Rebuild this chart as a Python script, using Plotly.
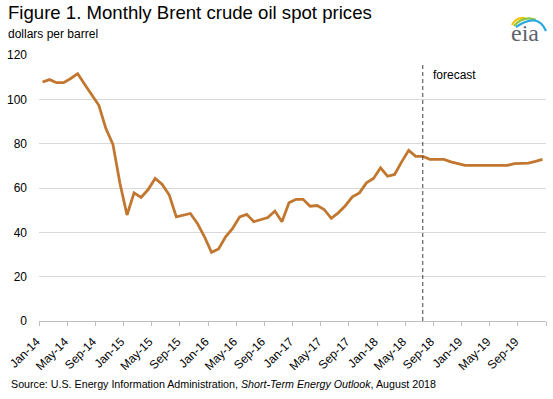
import plotly.graph_objects as go
import pandas as pd

# ---- data ----
months = [d.strftime("%b-%y") for d in pd.date_range("2014-01-01", periods=72, freq="MS")]
brent = [
    107.8, 108.9, 107.5, 107.5, 109.4, 111.6, 106.7, 102.2, 97.3, 86.8, 79.7, 62.0,   # 2014
    47.8, 57.8, 55.7, 59.3, 64.3, 61.6, 56.8, 47.0, 47.8, 48.5, 44.0, 38.0,           # 2015
    31.0, 32.5, 38.0, 41.8, 47.0, 48.1, 44.8, 45.8, 46.7, 49.6, 44.8, 53.3,           # 2016
    54.9, 54.9, 51.8, 52.1, 50.3, 46.3, 48.8, 52.0, 56.0, 57.8, 62.3, 64.3,           # 2017
    69.1, 65.3, 66.1, 71.8, 77.0, 74.3, 74.3, 72.9, 72.9, 72.9, 71.8, 70.9,           # 2018
    70.2, 70.2, 70.2, 70.2, 70.2, 70.2, 70.2, 71.0, 71.0, 71.2, 72.0, 72.9,           # 2019
]
forecast_start = "Jul-18"
y_ticks = [0, 20, 40, 60, 80, 100, 120]

title_text = "Figure 1. Monthly Brent crude oil spot prices"
units_text = "dollars per barrel"
source_text = "Source: U.S. Energy Information Administration, <i>Short-Term Energy Outlook</i>, August 2018"

# ---- layout geometry (pixels) ----
W, H = 553, 399
ML, MR, MT, MB = 39, 7, 55, 78
PW, PH = W - ML - MR, H - MT - MB


def px(x):
    return (x - ML) / PW


def py(y):
    return (H - MB - y) / PH


FONT = "Arial, 'Liberation Sans', sans-serif"
LINE_COLOR = "#C1772F"

fig = go.Figure()
fig.add_trace(go.Scatter(
    x=months, y=brent, mode="lines",
    line=dict(color=LINE_COLOR, width=2.8),
    hoverinfo="x+y", showlegend=False,
))

fig.update_layout(
    width=W, height=H,
    margin=dict(l=ML, r=MR, t=MT, b=MB, autoexpand=False),
    paper_bgcolor="white", plot_bgcolor="white",
    font=dict(family=FONT, size=12, color="#000000"),
    xaxis=dict(
        type="category", categoryorder="array", categoryarray=months,
        range=[-0.5, 71.5], dtick=4, tickangle=-45, tickson="boundaries",
        ticks="outside", ticklen=4, tickcolor="#BFBFBF", tickwidth=1,
        showline=True, linecolor="#BFBFBF", linewidth=1,
        showgrid=False, zeroline=False,
        ticklabelstandoff=8, ticklabelshift=-6,
        tickfont=dict(size=12, family=FONT, color="#000000"),
    ),
    yaxis=dict(
        range=[0, 120], tickvals=y_ticks,
        showgrid=True, gridcolor="#D9D9D9", gridwidth=1,
        zeroline=False, showline=False, ticks="",
        ticklabelstandoff=11,
        tickfont=dict(size=12, family=FONT, color="#000000"),
    ),
)

# forecast divider
fig.add_shape(type="line", xref="x", yref="y",
              x0=forecast_start, x1=forecast_start, y0=0, y1=116.5,
              line=dict(color="#404040", width=1, dash="4px,3px"))

ann = []
ann.append(dict(text=title_text, x=px(6), y=py(0), xref="paper", yref="paper",
                xanchor="left", yanchor="top", showarrow=False,
                font=dict(size=18.6, family=FONT, color="#000000")))
ann.append(dict(text=units_text, x=px(6), y=py(25), xref="paper", yref="paper",
                xanchor="left", yanchor="top", showarrow=False,
                font=dict(size=12, family=FONT, color="#000000")))
ann.append(dict(text="forecast", x=px(431), y=py(75), xref="paper", yref="paper",
                xanchor="left", yanchor="middle", showarrow=False,
                font=dict(size=12, family=FONT, color="#000000")))
ann.append(dict(text=source_text, x=px(9), y=py(384), xref="paper", yref="paper",
                xanchor="left", yanchor="middle", showarrow=False,
                font=dict(size=10.7, family=FONT, color="#000000")))
# eia logo text
ann.append(dict(text="eia", x=px(525), y=py(33), xref="paper", yref="paper",
                xanchor="center", yanchor="middle", showarrow=False,
                font=dict(size=24, family="'Liberation Serif', 'DejaVu Serif', serif", color="#5F6369")))
fig.update_layout(annotations=ann)

# eia logo swooshes
def arc(points, color, width):
    d = "M {} {} Q {} {} {} {}".format(
        px(points[0][0]), py(points[0][1]),
        px(points[1][0]), py(points[1][1]),
        px(points[2][0]), py(points[2][1]))
    fig.add_shape(type="path", xref="paper", yref="paper", path=d,
                  line=dict(color=color, width=width))

arc([(512, 25), (516, 17), (525, 18)], "#F5C518", 2.2)
arc([(514, 26), (524, 15), (536, 20)], "#8DC63F", 2.2)
arc([(516, 27), (538, 12), (546, 31)], "#29A8E0", 2.2)

fig.write_html("out.html", config={"displayModeBar": False},
               post_script="document.body.style.margin='0px';")
